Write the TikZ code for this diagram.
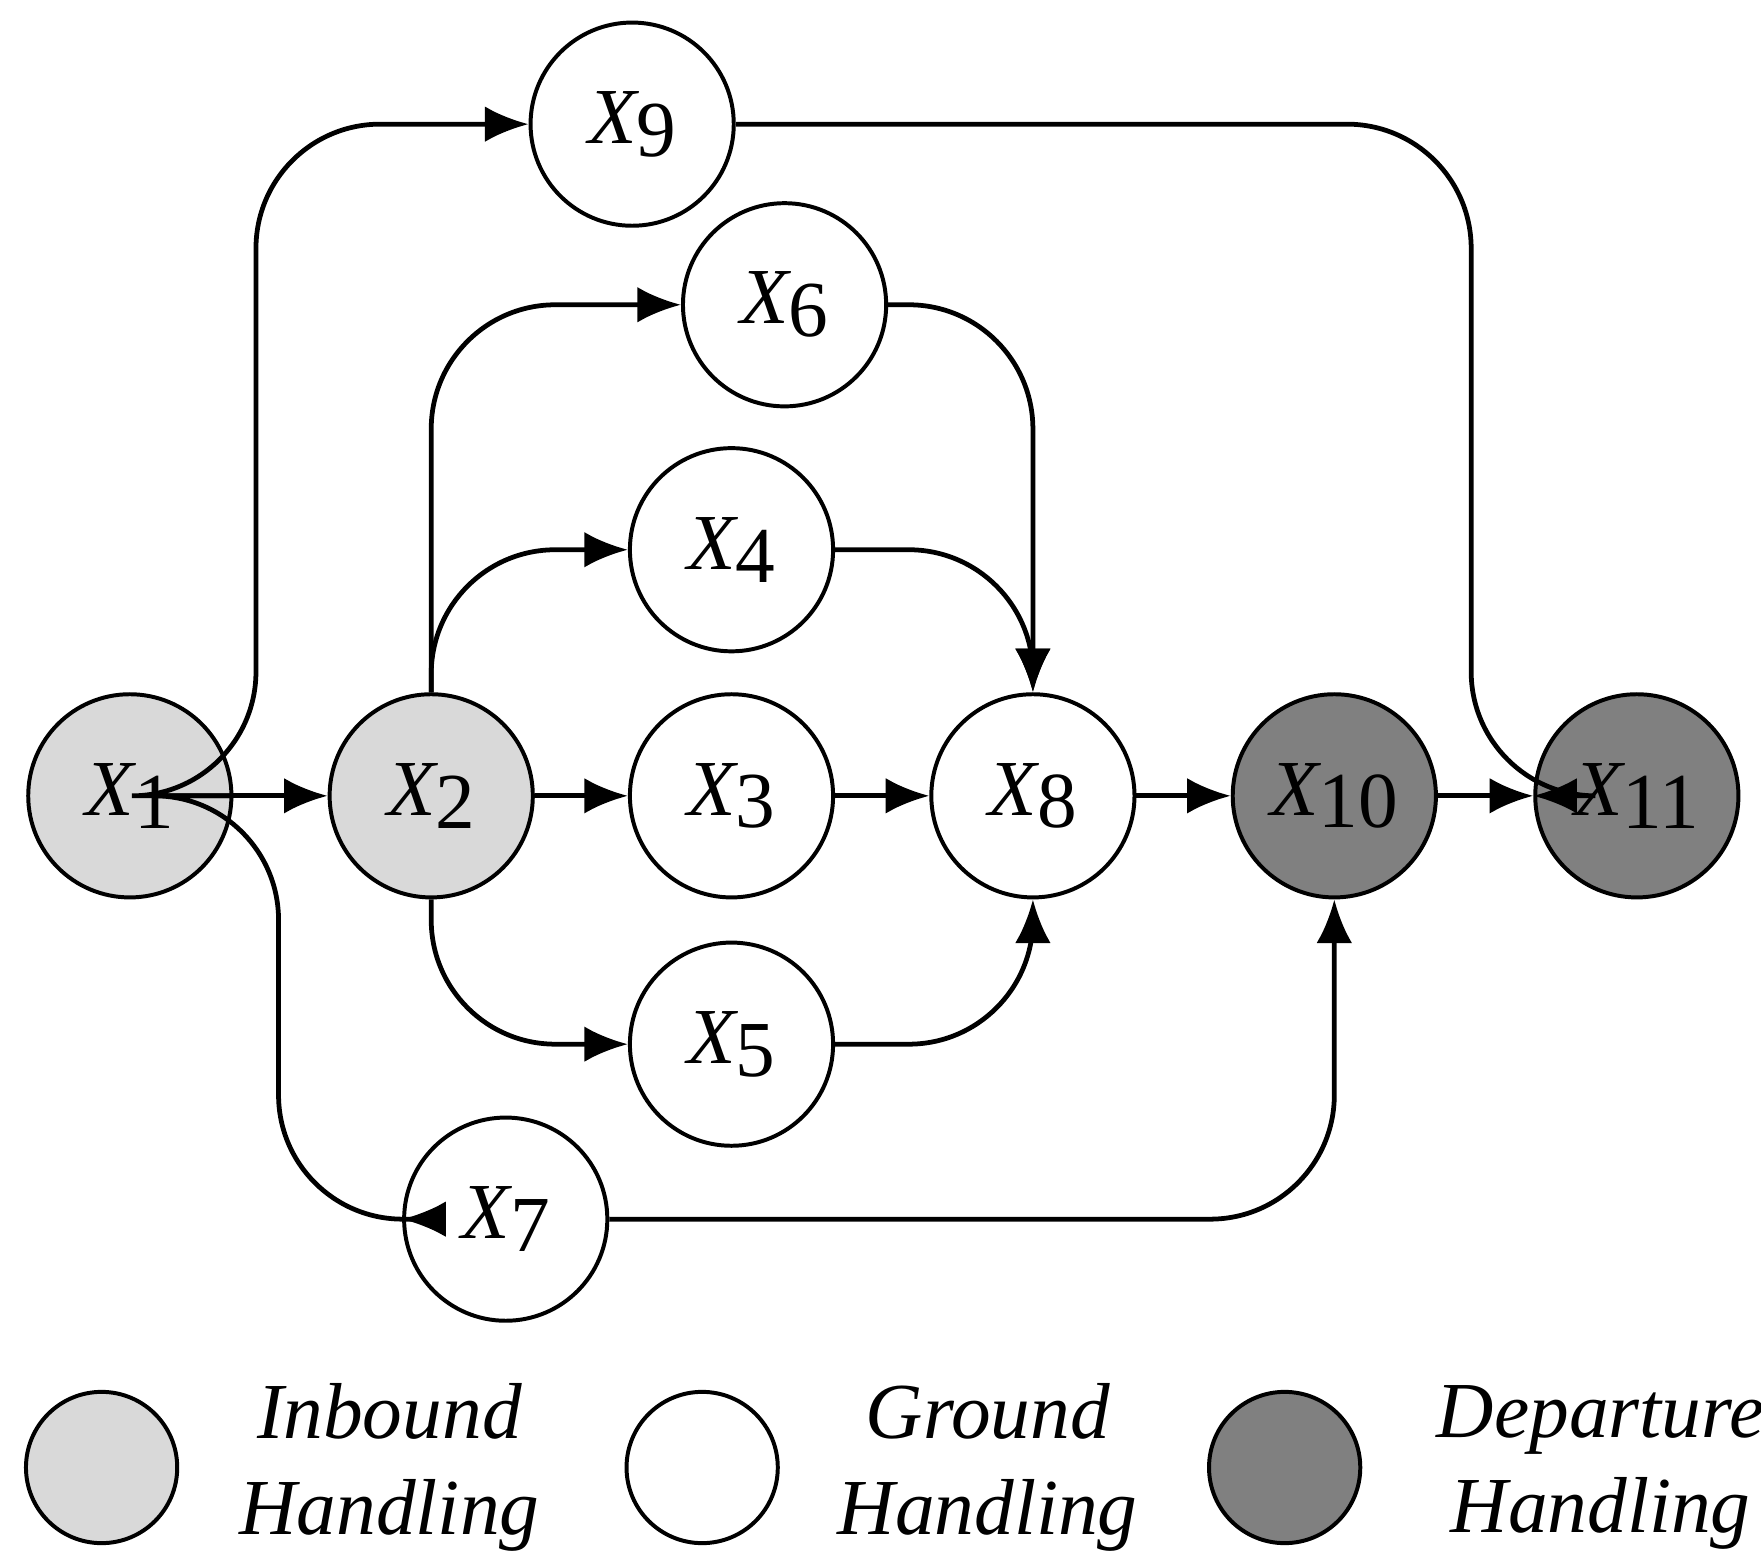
\documentclass[tikz,border=0pt]{standalone}
\usepackage{fontspec}
\setmainfont{Liberation Serif}
\usetikzlibrary{arrows.meta, calc}
\definecolor{inbound}{HTML}{D9D9D9}
\definecolor{depart}{HTML}{808080}
\newcommand{\xlab}[1]{{\itshape X}\raisebox{-0.35ex}{#1}}
\tikzset{
  st/.style={draw, circle, line width=1pt, minimum size=1.8cm, inner sep=0pt,
    font=\fontsize{20}{24}\selectfont},
  leg/.style={draw, circle, line width=1pt, minimum size=1.34cm, inner sep=0pt},
  legtext/.style={align=center, font=\fontsize{20}{24}\selectfont\itshape},
  flow/.style={line width=1.2pt, -{Latex[length=11pt,width=9pt]}, rounded corners=1.1cm}
}
\begin{document}
\begin{tikzpicture}
        \useasboundingbox (0,0) rectangle (15.6,13.77);

        \node (x1) at (1.15, 6.72) [st, fill=inbound] {\xlab{1}};
        \node (x2) at (3.82, 6.72) [st, fill=inbound] {\xlab{2}};
        \node (x3) at (6.48, 6.72) [st] {\xlab{3}};
        \node (x8) at (9.15, 6.72) [st] {\xlab{8}};
        \node (x10) at (11.82, 6.72) [st, fill=depart] {\xlab{10}};
        \node (x11) at (14.5, 6.72) [st, fill=depart] {\xlab{11}};
        \node (x9) at (5.6, 12.67) [st] {\xlab{9}};
        \node (x6) at (6.95, 11.07) [st] {\xlab{6}};
        \node (x4) at (6.48, 8.9) [st] {\xlab{4}};
        \node (x5) at (6.48, 4.52) [st] {\xlab{5}};
        \node (x7) at (4.48, 2.97) [st] {\xlab{7}};

        \node (l1) at (0.9, 0.77) [leg, fill=inbound] {};
        \node (l2) at (6.22, 0.77) [leg] {};
        \node (l3) at (11.38, 0.77) [leg, fill=depart] {};
        \node (t1) at (3.45, 0.77) [legtext] {Inbound\\Handling};
        \node (t2) at (8.75, 0.77) [legtext] {Ground\\Handling};
        \node (t3) at (14.18, 0.77) [legtext] {Departure\\Handling};

        \draw[flow] (x1) -- (x2);
        \draw[flow] (x2) -- (x3);
        \draw[flow] (x3) -- (x8);
        \draw[flow] (x8) -- (x10);
        \draw[flow] (x10) -- (x11);
        \draw[flow] (x1.east) -- ++(0.2,0) |- (x9.west);
        \draw[flow] (x1.east) -- ++(0.4,0) |- (x7.west);
        \draw[flow] (x2.north) |- (x6.west);
        \draw[flow] (x2.north) |- (x4.west);
        \draw[flow] (x2.south) |- (x5.west);
        \draw[flow] (x6.east) -| (x8.north);
        \draw[flow] (x4.east) -| (x8.north);
        \draw[flow] (x5.east) -| (x8.south);
        \draw[flow] (x7.east) -| (x10.south);
        \draw[flow] (x9.east) -| ($(x11.west)+(-0.55,0)$) -- (x11.west);
    \end{tikzpicture}
\end{document}
